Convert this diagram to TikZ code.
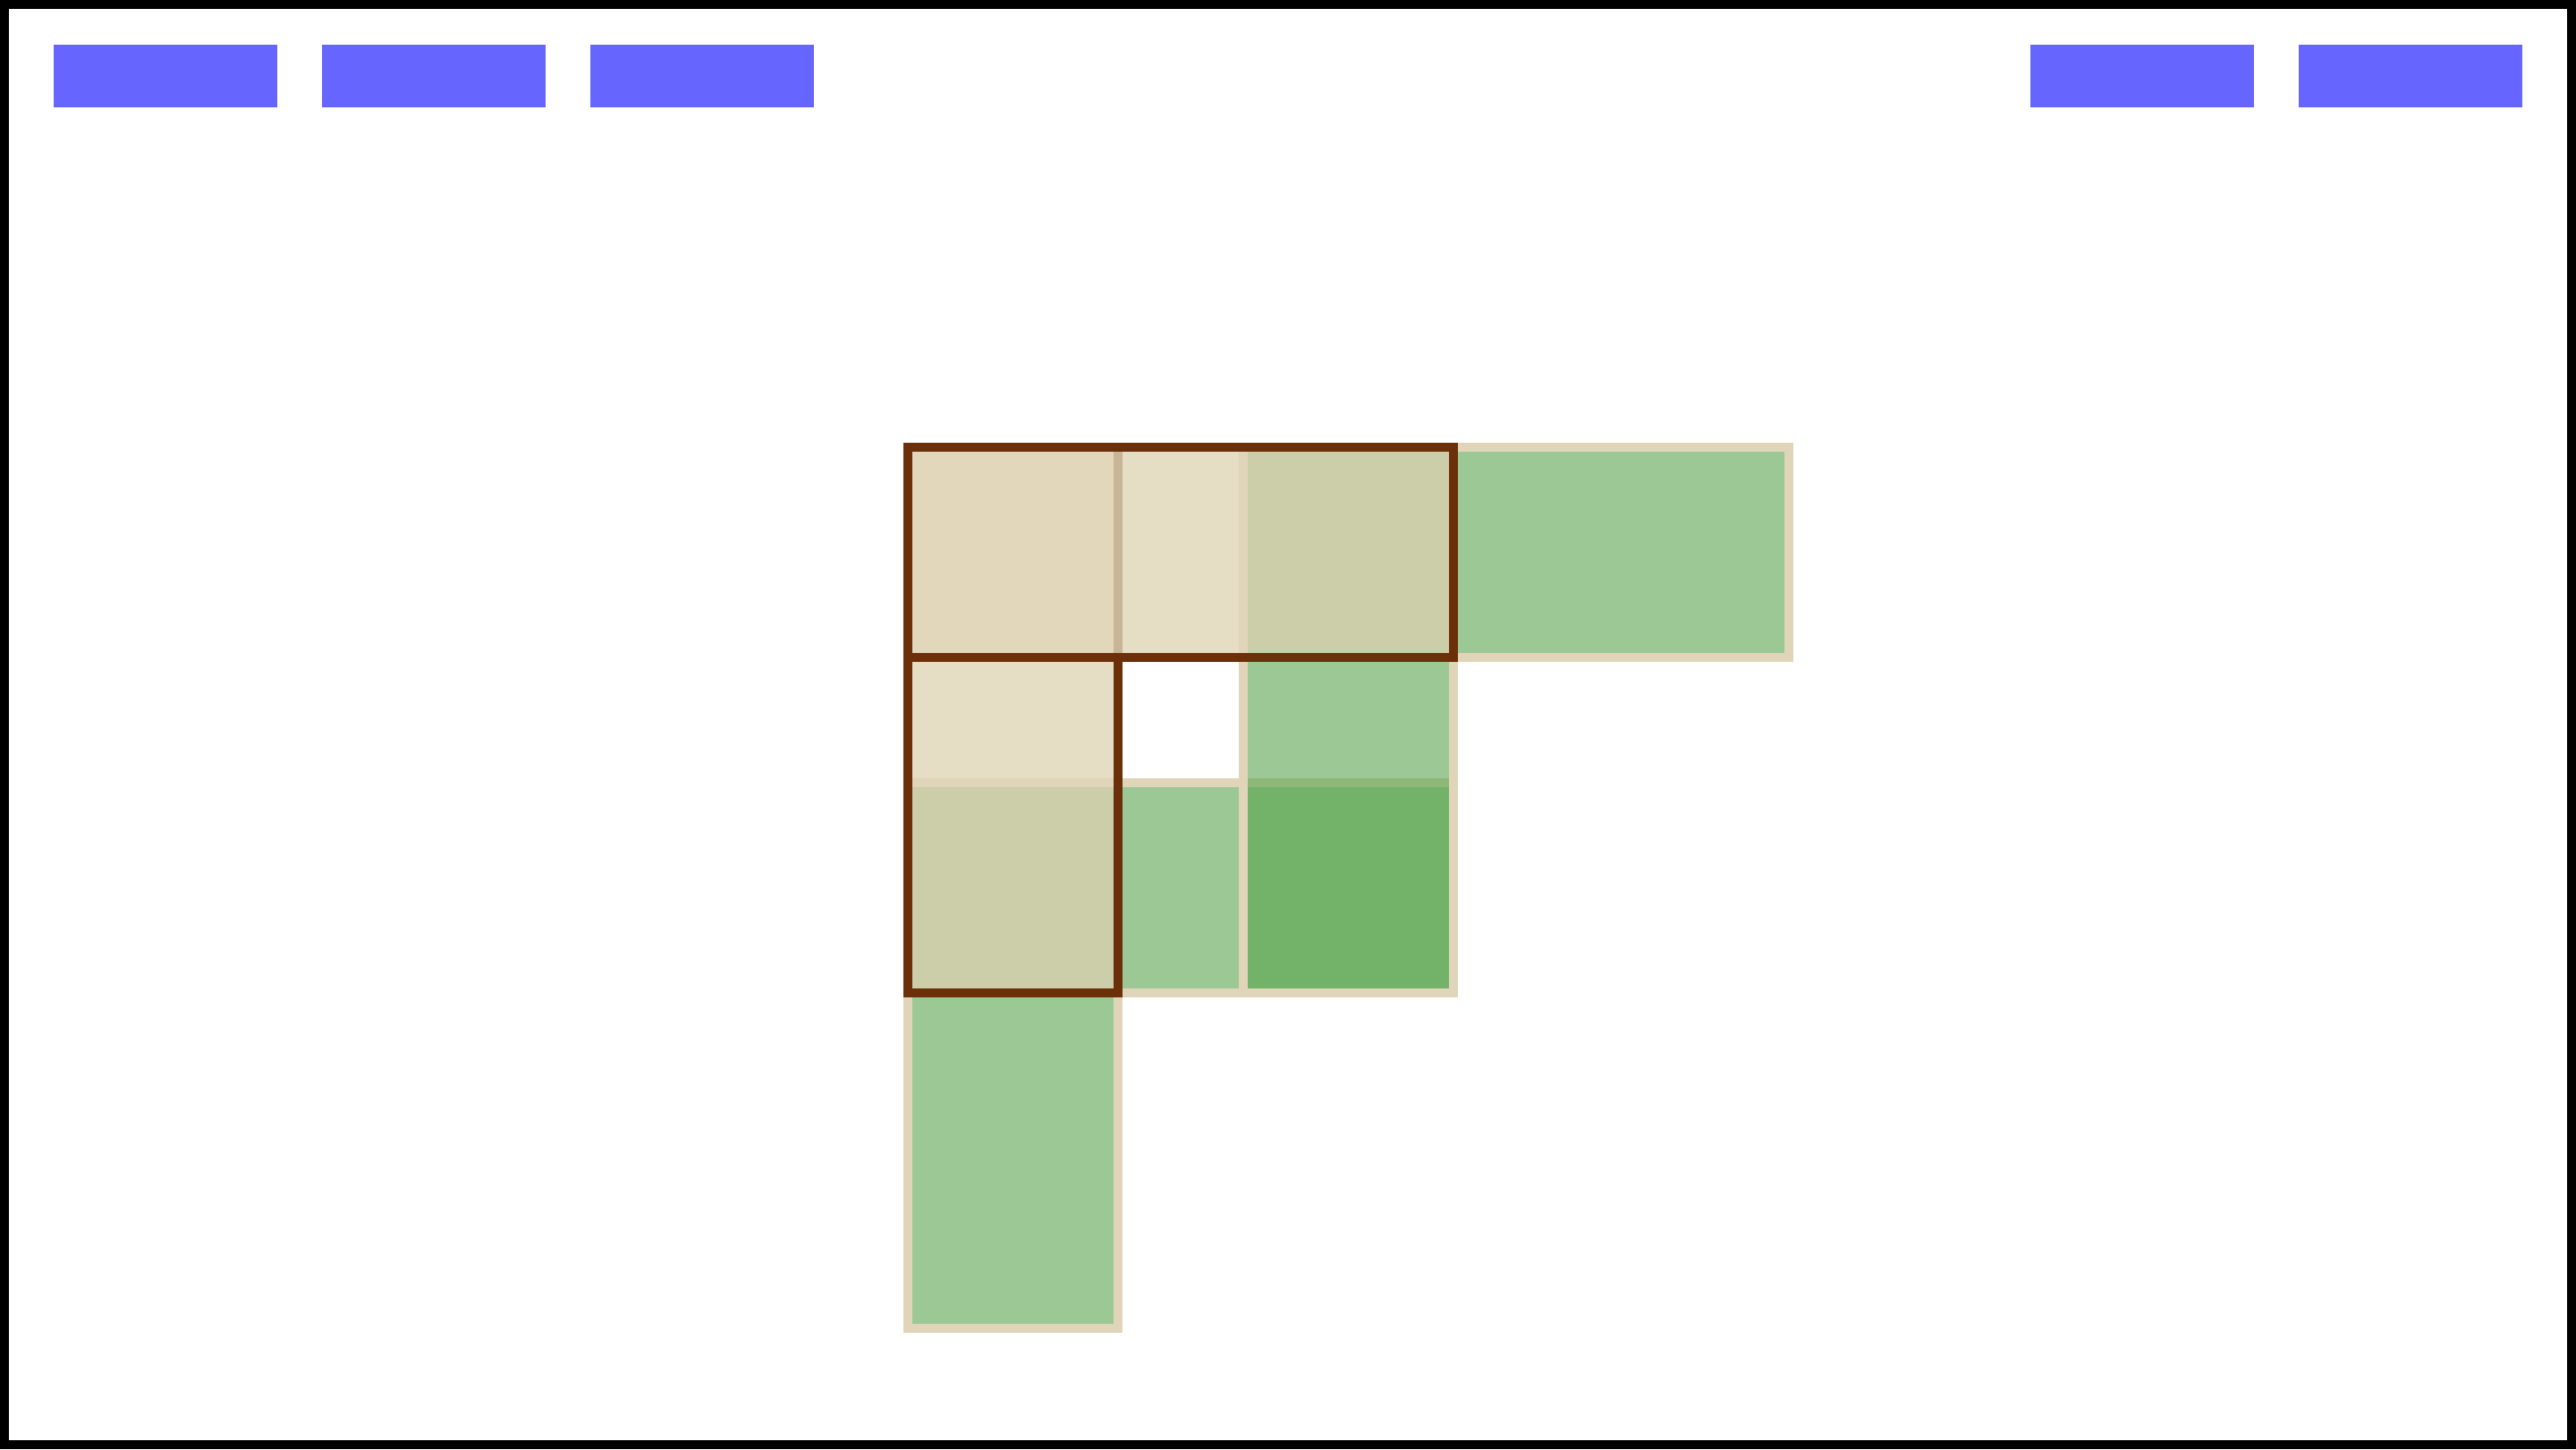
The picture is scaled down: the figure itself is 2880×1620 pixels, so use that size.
\documentclass[tikz,border=0pt]{standalone}
\usepackage{xcolor}
\usetikzlibrary{positioning}
\definecolor{barblue}{RGB}{102,102,255}
\definecolor{edgebrown}{RGB}{107,48,10}
\definecolor{cellline}{RGB}{224,213,185}
\definecolor{tanfill}{RGB}{226,214,187}
\definecolor{paletan}{RGB}{230,221,197}
\definecolor{olivefill}{RGB}{203,206,168}
\definecolor{greenfill}{RGB}{155,200,148}
\definecolor{deepgreen}{RGB}{114,178,105}
\definecolor{seamtan}{RGB}{200,180,150}
\definecolor{seamgreen}{RGB}{141,184,119}
\tikzset{bar/.style={rectangle,fill=barblue,minimum width=25mm,minimum height=7mm,inner sep=0pt,outer sep=0pt}}
\tikzset{cell/.style={draw=cellline,line width=1mm}}

\begin{document}
\begin{tikzpicture}[x=0.1mm,y=-0.1mm,node distance=5mm]
\useasboundingbox (0,0) rectangle (2880,1620);
\draw[line width=1mm] (5,5) rectangle (2875,1615);

\node[bar] (B1) at (185,85) {};
\node[bar,right=of B1] (B2) {};
\node[bar,right=of B2] (B3) {};
\node[bar] (B5) at (2695,85) {};
\node[bar,left=of B5] (B4) {};

% cells
\draw[cell,fill=tanfill] (1015,500) rectangle (1250,735);
\draw[cell,fill=paletan] (1250,500) rectangle (1390,735);
\draw[cell,fill=olivefill] (1390,500) rectangle (1625,735);
\draw[cell,fill=greenfill] (1625,500) rectangle (2000,735);
\draw[cell,fill=paletan] (1015,735) rectangle (1250,875);
\draw[cell,fill=greenfill] (1390,735) rectangle (1625,875);
\draw[cell,fill=olivefill] (1015,875) rectangle (1250,1110);
\draw[cell,fill=greenfill] (1250,875) rectangle (1390,1110);
\draw[cell,fill=deepgreen] (1390,875) rectangle (1625,1110);
\draw[cell,fill=greenfill] (1015,1110) rectangle (1250,1485);

\draw[seamtan,line width=1mm] (1250,505) -- (1250,730);
\draw[seamgreen,line width=1mm] (1395,875) -- (1620,875);

% outlines
\draw[edgebrown,line width=1mm] (1015,500) rectangle (1625,735);
\draw[edgebrown,line width=1mm] (1250,735) -- (1250,1110) -- (1015,1110) -- (1015,735);
\end{tikzpicture}
\end{document}
